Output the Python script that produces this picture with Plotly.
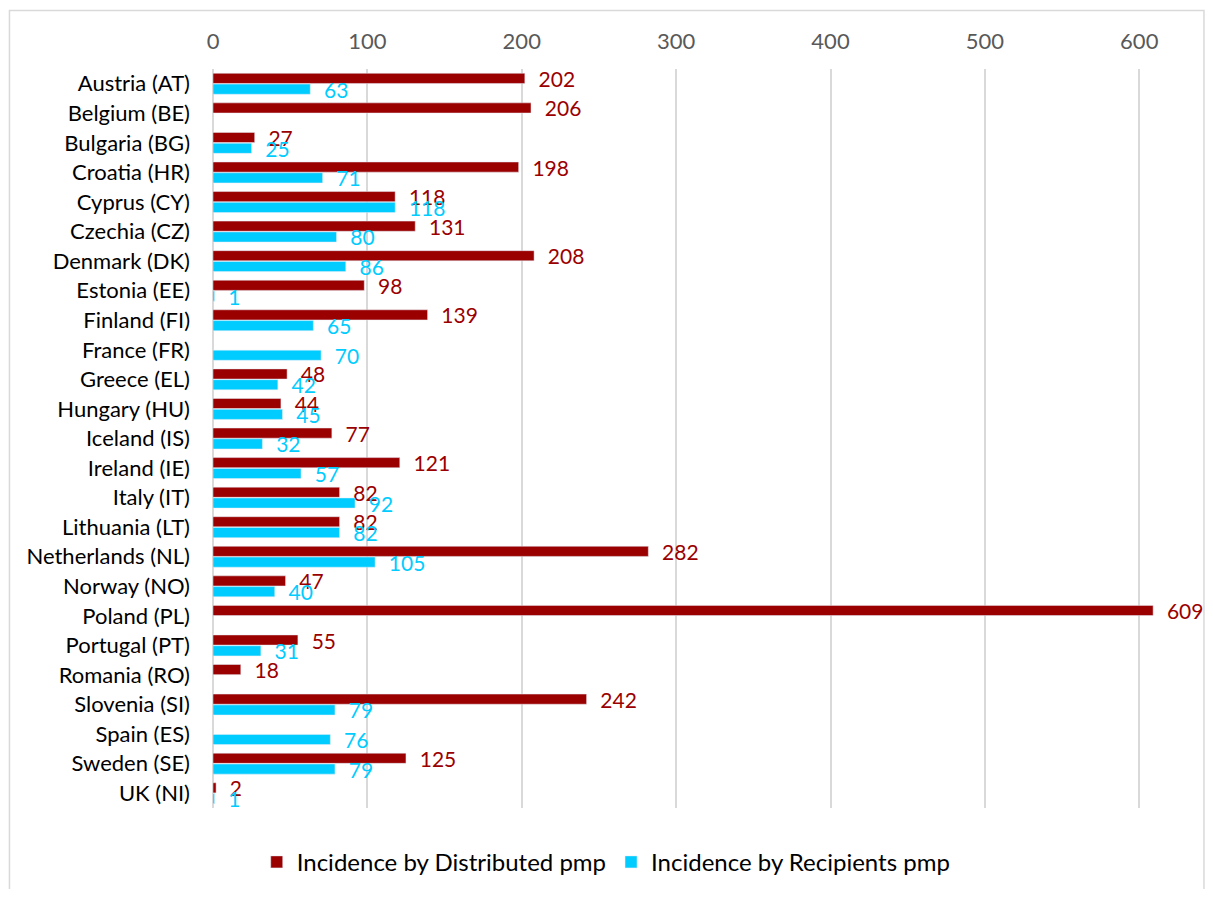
import plotly.graph_objects as go

# data
countries = [
    "Austria (AT)", "Belgium (BE)", "Bulgaria (BG)", "Croatia (HR)", "Cyprus (CY)",
    "Czechia (CZ)", "Denmark (DK)", "Estonia (EE)", "Finland (FI)", "France (FR)",
    "Greece (EL)", "Hungary (HU)", "Iceland (IS)", "Ireland (IE)", "Italy (IT)",
    "Lithuania (LT)", "Netherlands (NL)", "Norway (NO)", "Poland (PL)", "Portugal (PT)",
    "Romania (RO)", "Slovenia (SI)", "Spain (ES)", "Sweden (SE)", "UK (NI)",
]
distributed = [202, 206, 27, 198, 118, 131, 208, 98, 139, None,
               48, 44, 77, 121, 82, 82, 282, 47, 609, 55,
               18, 242, None, 125, 2]
recipients = [63, None, 25, 71, 118, 80, 86, 1, 65, 70,
              42, 45, 32, 57, 92, 82, 105, 40, None, 31,
              None, 79, 76, 79, 1]
x_ticks = [0, 100, 200, 300, 400, 500, 600]

RED = "#9b0000"
BLUE = "#00ccff"
FONT = "Lato"

fig = go.Figure()
fig.add_trace(go.Bar(
    y=countries, x=distributed, orientation="h",
    name="Incidence by Distributed pmp",
    marker=dict(color=RED),
    texttemplate="  %{x}", textposition="outside",
    textfont=dict(color=RED, size=21, family=FONT),
    cliponaxis=False,
))
fig.add_trace(go.Bar(
    y=countries, x=recipients, orientation="h",
    name="Incidence by Recipients pmp",
    marker=dict(color=BLUE),
    texttemplate="  %{x}", textposition="outside",
    textfont=dict(color=BLUE, size=21, family=FONT),
    cliponaxis=False,
))

# page body has an 8px margin, so the figure is a bit smaller than the window
fig.update_layout(
    width=1197, height=881,
    margin=dict(l=205, r=4, t=61, b=77),
    paper_bgcolor="white", plot_bgcolor="white",
    font=dict(family=FONT, size=18, color="#000000"),
    barmode="group", bargap=0.27, bargroupgap=0.06,
    showlegend=True,
    legend=dict(orientation="h", x=0.398, xanchor="center", y=-0.043, yanchor="top",
                bgcolor="rgba(0,0,0,0)",
                font=dict(size=24, family=FONT), traceorder="normal"),
    shapes=[dict(type="rect", xref="paper", yref="paper",
                 x0=-0.206, x1=1.003, y0=-0.2, y1=1.079,
                 line=dict(color="#d9d9d9", width=1.5), fillcolor="rgba(0,0,0,0)",
                 layer="below")],
)
fig.update_traces(constraintext="none")
fig.update_xaxes(
    side="top", range=[0, 640], tickvals=x_ticks, automargin=False,
    showgrid=True, gridcolor="#d9d9d9", gridwidth=1.5,
    zeroline=True, zerolinecolor="#d9d9d9", zerolinewidth=1.5,
    tickfont=dict(color="#595959", size=22, family=FONT),
    ticklabelstandoff=15, showline=False,
)
fig.update_yaxes(
    autorange="reversed", showgrid=False, ticks="", automargin=False,
    tickfont=dict(color="#000000", size=22, family=FONT),
    ticklabelstandoff=22,
)

fig.write_html("out.html")
